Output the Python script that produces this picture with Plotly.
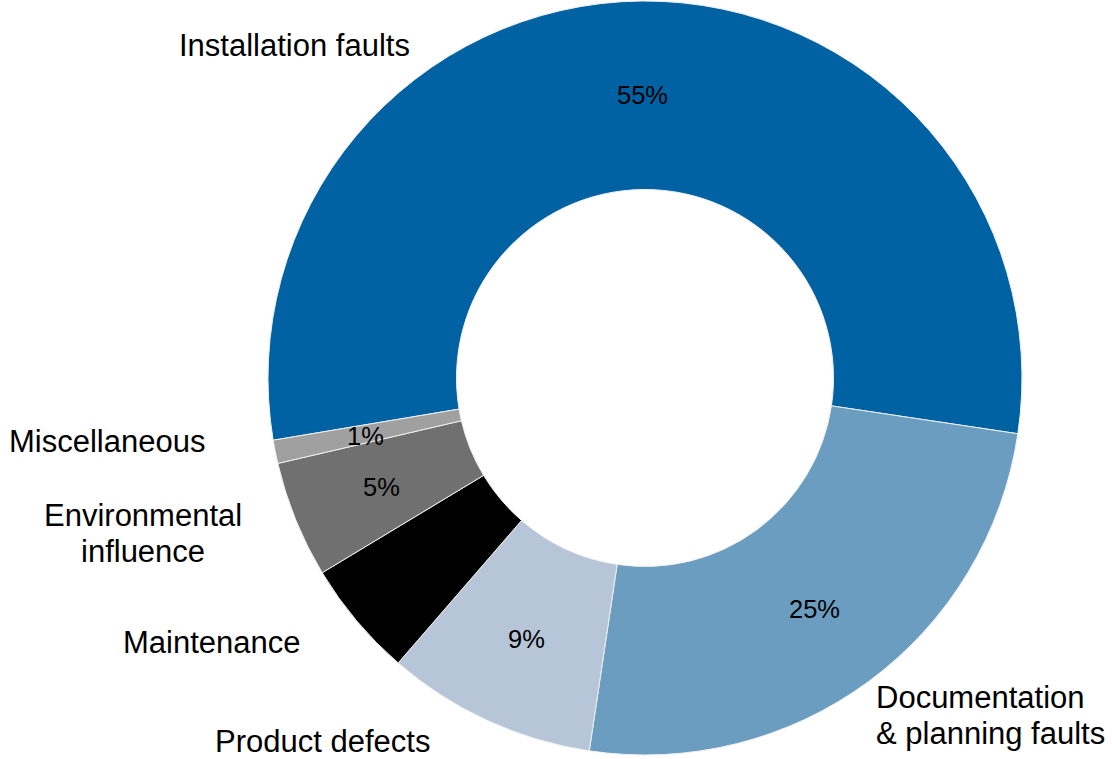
import math
import plotly.graph_objects as go

# Data
categories = ["Installation faults", "Documentation & planning faults", "Product defects",
              "Maintenance", "Environmental influence", "Miscellaneous"]
values = [55, 25, 9, 5, 5, 1]
label_text = ["Installation faults", "Documentation<br>& planning faults", "Product defects",
              "Maintenance", "Environmental<br>influence", "Miscellaneous"]

colors = ["#0062A3", "#6A9DC0", "#B6C6D8", "#000000", "#707070", "#A0A0A0"]

W, H = 1112, 759
CX, CY, R = 645, 378, 377          # pie centre / radius in pixels (layout)
HOLE = 0.5
ROTATION = 260.5                    # degrees clockwise from 12 o'clock
# label anchor positions in pixels (layout only): (x, y, xanchor)
label_pos = [(294, 46, "center"), (874, 715, "left"), (322, 741, "center"),
             (212, 642, "center"), (143, 533, "center"), (107, 441, "center")]
LINE_GAP = 36

FONT = "Liberation Sans, Arial, sans-serif"

fig = go.Figure(go.Pie(
    labels=categories,
    values=values,
    sort=False,
    direction="clockwise",
    rotation=ROTATION,
    hole=HOLE,
    marker=dict(colors=colors, line=dict(color="#F0F0F0", width=1)),
    textinfo="none",
    domain=dict(x=[(CX - R) / W, (CX + R) / W], y=[1 - (CY + R) / H, 1 - (CY - R) / H]),
    showlegend=False,
    hoverinfo="label+percent",
))

annotations = []
# category labels outside the ring
for txt, (px, py, xa) in zip(label_text, label_pos):
    lines = txt.split("<br>")
    n = len(lines)
    for i, ln in enumerate(lines):
        ly = py + (i - (n - 1) / 2) * LINE_GAP
        annotations.append(dict(
            x=px / W, y=1 - ly / H, xref="paper", yref="paper",
            text=ln, showarrow=False, xanchor=xa, yanchor="middle",
            font=dict(family=FONT, size=31, color="black"),
        ))

# percentage labels at the middle of each ring segment, derived from the values
total = sum(values)
cum = 0.0
r_mid = R * 0.755
for v in values:
    ang = math.radians(ROTATION + 360 * (cum + v / 2) / total)
    cum += v
    px = CX + r_mid * math.sin(ang)
    py = CY - r_mid * math.cos(ang) + 2
    annotations.append(dict(
        x=px / W, y=1 - py / H, xref="paper", yref="paper",
        text=f"{round(100 * v / total)}%", showarrow=False,
        xanchor="center", yanchor="middle",
        font=dict(family=FONT, size=25.5, color="black"),
    ))

fig.update_layout(
    width=W, height=H,
    margin=dict(l=0, r=0, t=0, b=0),
    paper_bgcolor="white", plot_bgcolor="white",
    annotations=annotations,
)

fig.write_html("out.html",
               config={"displayModeBar": False},
               post_script="document.body.style.margin='0';document.body.style.overflow='hidden';")
